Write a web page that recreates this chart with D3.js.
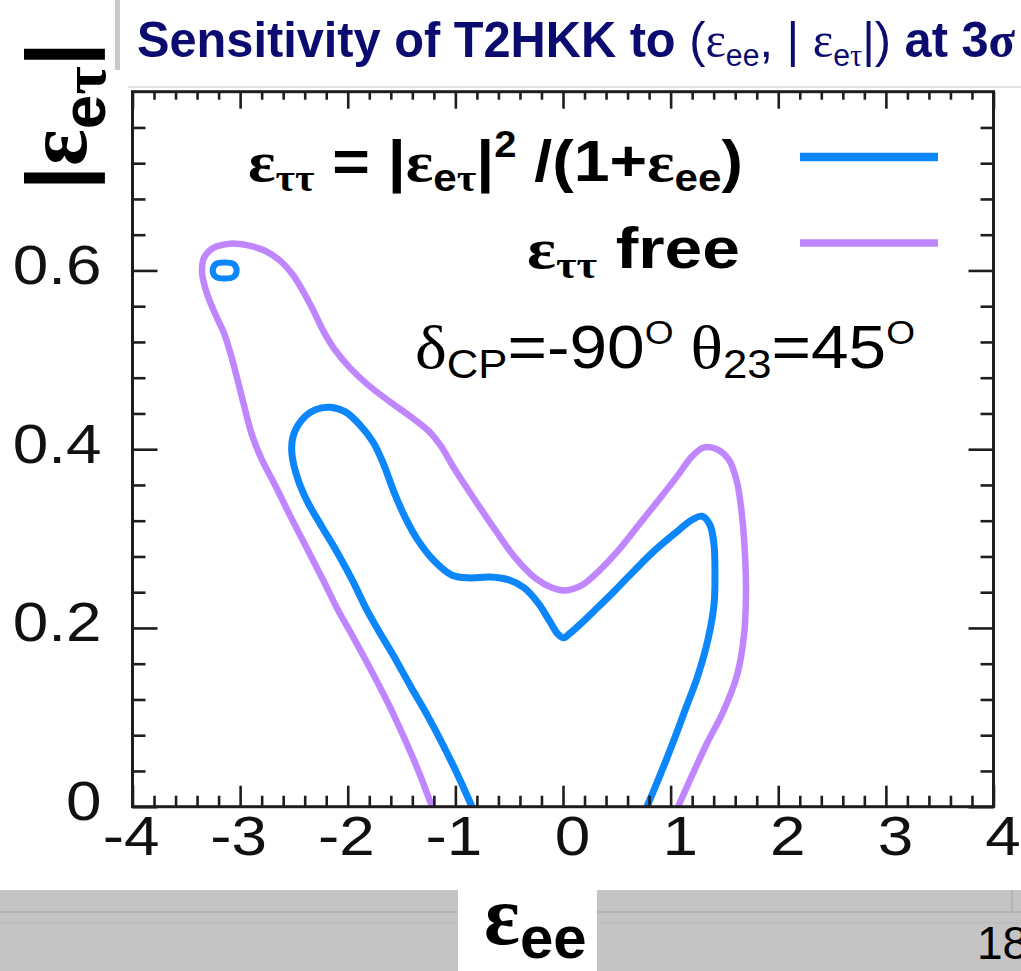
<!DOCTYPE html>
<html>
<head>
<meta charset="utf-8">
<script src="https://cdn.jsdelivr.net/npm/d3@7"></script>
<style>
  html, body { margin: 0; padding: 0; background: #ffffff; }
  svg { display: block; }
  .sans { font-family: "Liberation Sans", Arial, sans-serif; }
  .gk { font-family: "Liberation Serif", "Times New Roman", serif; }
</style>
</head>
<body>
<svg id="chart" width="1021" height="971"></svg>
<script>
// ---------------- data ----------------
const xTickValues = [-4, -3, -2, -1, 0, 1, 2, 3, 4];
const xTickLabels = ["-4", "-3", "-2", "-1", "0", "1", "2", "3", "4"];
const yTickValues = [0, 0.2, 0.4, 0.6];
const yTickLabels = ["0", "0.2", "0.4", "0.6"];

// eps_tautau free (outer, purple)
const contourFree = [
  [-1.217,0.000],[-1.347,0.041],[-1.487,0.080],[-1.626,0.116],[-1.793,0.155],
  [-1.960,0.192],[-2.091,0.220],[-2.230,0.254],[-2.379,0.289],[-2.537,0.326],
  [-2.676,0.360],[-2.797,0.388],[-2.890,0.416],[-2.964,0.449],[-3.029,0.480],
  [-3.094,0.509],[-3.150,0.530],[-3.215,0.547],[-3.280,0.565],[-3.326,0.581],
  [-3.354,0.598],[-3.336,0.614],[-3.252,0.625],[-3.094,0.630],[-2.927,0.628],
  [-2.769,0.622],[-2.630,0.611],[-2.509,0.595],[-2.416,0.577],[-2.323,0.556],
  [-2.230,0.533],[-2.118,0.511],[-1.979,0.491],[-1.812,0.472],[-1.607,0.453],
  [-1.422,0.437],[-1.254,0.421],[-1.143,0.405],[-1.003,0.377],[-0.818,0.343],
  [-0.632,0.310],[-0.446,0.279],[-0.260,0.256],[-0.102,0.245],[0.019,0.242],
  [0.177,0.248],[0.344,0.265],[0.530,0.289],[0.715,0.317],[0.901,0.345],
  [1.069,0.371],[1.199,0.392],[1.310,0.402],[1.431,0.400],[1.542,0.388],
  [1.617,0.363],[1.663,0.326],[1.691,0.282],[1.700,0.237],[1.682,0.192],
  [1.617,0.147],[1.487,0.106],[1.338,0.071],[1.199,0.035],[1.069,0.000]
];

// eps_tautau = |eps_etau|^2/(1+eps_ee) (inner, blue)
const contourConstrained = [
  [-0.846,0.000],[-0.976,0.035],[-1.115,0.069],[-1.264,0.103],[-1.422,0.136],
  [-1.580,0.170],[-1.719,0.198],[-1.830,0.222],[-1.960,0.254],[-2.100,0.285],
  [-2.239,0.313],[-2.369,0.340],[-2.462,0.366],[-2.518,0.394],[-2.509,0.414],
  [-2.425,0.433],[-2.304,0.444],[-2.165,0.447],[-2.026,0.442],[-1.886,0.427],
  [-1.765,0.408],[-1.663,0.382],[-1.570,0.352],[-1.468,0.324],[-1.347,0.298],
  [-1.189,0.274],[-1.031,0.259],[-0.864,0.256],[-0.678,0.257],[-0.511,0.254],
  [-0.362,0.245],[-0.232,0.228],[-0.121,0.207],[-0.046,0.193],[0.009,0.189],
  [0.065,0.194],[0.158,0.204],[0.297,0.220],[0.483,0.242],[0.669,0.265],
  [0.855,0.287],[1.041,0.306],[1.199,0.321],[1.292,0.325],[1.366,0.315],
  [1.403,0.293],[1.412,0.259],[1.403,0.226],[1.347,0.187],[1.254,0.147],
  [1.134,0.108],[1.013,0.069],[0.901,0.035],[0.780,0.000]
];

// small closed island of the blue contour
const islandConstrained = [
  [-3.255,0.600],[-3.222,0.6075],[-3.145,0.609],[-3.065,0.6075],
  [-3.032,0.600],[-3.065,0.5925],[-3.145,0.591],[-3.222,0.5925]
];

const blue = "#0b86fb";
const purple = "#c086ff";
const axisColor = "#1e1e1e";

// ---------------- layout ----------------
const svg = d3.select("#chart");
const plot = { left: 132.5, right: 993.5, top: 91.7, bottom: 806.7 };

const x = d3.scaleLinear().domain([-4, 4]).range([plot.left, plot.right]);
const y = d3.scaleLinear().domain([0, 0.8]).range([plot.bottom, plot.top]);

// ---------- background pieces (slide decoration) ----------
svg.append("rect").attr("x", 115).attr("y", 0).attr("width", 5).attr("height", 70).attr("fill", "#c9c9c9");
svg.append("line").attr("x1", 128).attr("x2", 1021).attr("y1", 87).attr("y2", 87)
  .attr("stroke", "#e2e2e2").attr("stroke-width", 2);

// footer band
svg.append("rect").attr("x", 0).attr("y", 890).attr("width", 1021).attr("height", 81).attr("fill", "#c4c4c4");
svg.append("line").attr("x1", 0).attr("x2", 1021).attr("y1", 912).attr("y2", 912).attr("stroke", "#b0b0b0").attr("stroke-width", 1.5);
svg.append("line").attr("x1", 0).attr("x2", 1021).attr("y1", 923).attr("y2", 923).attr("stroke", "#b8b8b8").attr("stroke-width", 1.2);
svg.append("line").attr("x1", 1012).attr("x2", 1012).attr("y1", 890).attr("y2", 912).attr("stroke", "#b0b0b0").attr("stroke-width", 1.5);
svg.append("rect").attr("x", 458).attr("y", 890).attr("width", 139).attr("height", 81).attr("fill", "#ffffff");

// ---------------- title ----------------
const title = svg.append("text").attr("class", "sans")
  .attr("x", 137).attr("y", 57)
  .attr("font-size", 50).attr("font-weight", "bold").attr("fill", "#0c0c70")
  .attr("textLength", 878).attr("lengthAdjust", "spacingAndGlyphs");
title.append("tspan").text("Sensitivity of T2HKK to ");
title.append("tspan").attr("font-weight", "normal").text("(");
title.append("tspan").attr("class", "gk").attr("font-weight", "normal").text("ε");
title.append("tspan").attr("font-weight", "normal").attr("font-size", 31).attr("dy", 9).text("ee");
title.append("tspan").attr("font-weight", "normal").attr("dy", -9).text(", | ");
title.append("tspan").attr("class", "gk").attr("font-weight", "normal").text("ε");
title.append("tspan").attr("font-weight", "normal").attr("font-size", 31).attr("dy", 9).text("e");
title.append("tspan").attr("class", "gk").attr("font-weight", "normal").attr("font-size", 31).text("τ");
title.append("tspan").attr("font-weight", "normal").attr("dy", -9).text("|)");
title.append("tspan").text(" at 3");
title.append("tspan").attr("class", "gk").text("σ");

// ---------------- contours ----------------
svg.append("clipPath").attr("id", "plotclip").append("rect")
  .attr("x", plot.left).attr("y", plot.top)
  .attr("width", plot.right - plot.left).attr("height", plot.bottom - plot.top);

const lineOpen = d3.line().x(d => x(d[0])).y(d => y(d[1])).curve(d3.curveCatmullRom.alpha(0.5));
const lineClosed = d3.line().x(d => x(d[0])).y(d => y(d[1])).curve(d3.curveCatmullRomClosed.alpha(0.5));

const cg = svg.append("g").attr("clip-path", "url(#plotclip)");
cg.append("path").attr("d", lineOpen(contourFree))
  .attr("fill", "none").attr("stroke", purple).attr("stroke-width", 6.5).attr("stroke-linejoin", "round");
cg.append("path").attr("d", lineOpen(contourConstrained))
  .attr("fill", "none").attr("stroke", blue).attr("stroke-width", 7).attr("stroke-linejoin", "round");
cg.append("path").attr("d", lineClosed(islandConstrained))
  .attr("fill", "none").attr("stroke", blue).attr("stroke-width", 6);

// ---------------- axes ----------------
const xMinor = d3.range(-4, 4.0001, 0.2).map(v => +v.toFixed(2)).filter(v => Math.abs(v - Math.round(v)) > 1e-6);
const yMinor = d3.range(0, 0.8001, 0.04).map(v => +v.toFixed(2)).filter(v => Math.abs(v / 0.2 - Math.round(v / 0.2)) > 1e-6);

function styleAxis(g) {
  g.select(".domain").remove();
  g.selectAll(".tick line").attr("stroke", axisColor).attr("stroke-width", 2.6);
}

const labelScale = 1.14;

// bottom
const gxb = svg.append("g").attr("transform", `translate(0,${plot.bottom})`)
  .call(d3.axisBottom(x).tickValues(xTickValues).tickSize(-21).tickSizeOuter(0).tickPadding(9)
    .tickFormat((d, i) => xTickLabels[i]));
styleAxis(gxb);
gxb.selectAll(".tick text")
  .attr("font-size", 56).attr("fill", "#111").attr("text-anchor", "middle")
  .attr("font-family", "Liberation Sans, Arial, sans-serif")
  .attr("transform", `scale(${labelScale},1)`)
  .attr("x", d => (d >= 0 ? 9 : -2) / labelScale);
svg.append("g").attr("transform", `translate(0,${plot.bottom})`)
  .call(d3.axisBottom(x).tickValues(xMinor).tickSize(-11).tickSizeOuter(0).tickFormat(""))
  .call(styleAxis);

// top
svg.append("g").attr("transform", `translate(0,${plot.top})`)
  .call(d3.axisTop(x).tickValues(xTickValues).tickSize(-17).tickSizeOuter(0).tickFormat(""))
  .call(styleAxis);
svg.append("g").attr("transform", `translate(0,${plot.top})`)
  .call(d3.axisTop(x).tickValues(xMinor).tickSize(-8).tickSizeOuter(0).tickFormat(""))
  .call(styleAxis);

// left
const gyl = svg.append("g").attr("transform", `translate(${plot.left},0)`)
  .call(d3.axisLeft(y).tickValues(yTickValues).tickSize(-25).tickSizeOuter(0).tickPadding(31)
    .tickFormat((d, i) => yTickLabels[i]));
styleAxis(gyl);
gyl.selectAll(".tick text")
  .attr("font-size", 56).attr("fill", "#111").attr("text-anchor", "end")
  .attr("font-family", "Liberation Sans, Arial, sans-serif")
  .attr("transform", `scale(${labelScale},1)`)
  .attr("x", -31 / labelScale).attr("dy", "13px");
svg.append("g").attr("transform", `translate(${plot.left},0)`)
  .call(d3.axisLeft(y).tickValues(yMinor).tickSize(-13).tickSizeOuter(0).tickFormat(""))
  .call(styleAxis);

// right
svg.append("g").attr("transform", `translate(${plot.right},0)`)
  .call(d3.axisRight(y).tickValues(yTickValues).tickSize(-25).tickSizeOuter(0).tickFormat(""))
  .call(styleAxis);
svg.append("g").attr("transform", `translate(${plot.right},0)`)
  .call(d3.axisRight(y).tickValues(yMinor).tickSize(-13).tickSizeOuter(0).tickFormat(""))
  .call(styleAxis);

// frame
svg.append("rect").attr("x", plot.left).attr("y", plot.top)
  .attr("width", plot.right - plot.left).attr("height", plot.bottom - plot.top)
  .attr("fill", "none").attr("stroke", axisColor).attr("stroke-width", 3);

// ---------------- legend ----------------
const l1 = svg.append("text").attr("class", "sans")
  .attr("x", 248).attr("y", 181).attr("font-size", 58).attr("font-weight", "bold").attr("fill", "#000")
  .attr("textLength", 495).attr("lengthAdjust", "spacingAndGlyphs");
l1.append("tspan").attr("class", "gk").text("ε");
l1.append("tspan").attr("class", "gk").attr("font-size", 38).attr("dy", 10).text("ττ");
l1.append("tspan").attr("dy", -10).text(" = |");
l1.append("tspan").attr("class", "gk").text("ε");
l1.append("tspan").attr("font-size", 38).attr("dy", 10).text("e");
l1.append("tspan").attr("class", "gk").attr("font-size", 38).text("τ");
l1.append("tspan").attr("dy", -10).text("|");
l1.append("tspan").attr("font-size", 36).attr("dy", -24).text("2");
l1.append("tspan").attr("dy", 24).text(" /(1+");
l1.append("tspan").attr("class", "gk").text("ε");
l1.append("tspan").attr("font-size", 38).attr("dy", 10).text("ee");
l1.append("tspan").attr("dy", -10).text(")");

const l2 = svg.append("text").attr("class", "sans")
  .attr("x", 527).attr("y", 268).attr("font-size", 58).attr("font-weight", "bold").attr("fill", "#000")
  .attr("textLength", 213).attr("lengthAdjust", "spacingAndGlyphs");
l2.append("tspan").attr("class", "gk").text("ε");
l2.append("tspan").attr("class", "gk").attr("font-size", 38).attr("dy", 10).text("ττ");
l2.append("tspan").attr("dy", -10).text(" free");

const l3 = svg.append("text").attr("class", "sans")
  .attr("x", 415).attr("y", 368).attr("font-size", 62).attr("fill", "#000")
  .attr("textLength", 500).attr("lengthAdjust", "spacingAndGlyphs");
l3.append("tspan").attr("class", "gk").text("δ");
l3.append("tspan").attr("font-size", 40).attr("dy", 10).text("CP");
l3.append("tspan").attr("dy", -10).text("=-90");
l3.append("tspan").attr("font-size", 34).attr("dy", -24).text("O");
l3.append("tspan").attr("class", "gk").attr("dy", 24).text(" θ");
l3.append("tspan").attr("font-size", 40).attr("dy", 10).text("23");
l3.append("tspan").attr("dy", -10).text("=45");
l3.append("tspan").attr("font-size", 34).attr("dy", -24).text("O");

svg.append("line").attr("x1", 800).attr("x2", 938).attr("y1", 157).attr("y2", 157)
  .attr("stroke", blue).attr("stroke-width", 8.5);
svg.append("line").attr("x1", 800).attr("x2", 938).attr("y1", 243).attr("y2", 243)
  .attr("stroke", purple).attr("stroke-width", 7.5);

// ---------------- axis titles ----------------
const yl = svg.append("text").attr("class", "sans")
  .attr("transform", "translate(86,190) rotate(-90)")
  .attr("font-size", 86).attr("font-weight", "bold").attr("fill", "#000");
yl.append("tspan").text("|");
yl.append("tspan").attr("class", "gk").text("ε");
yl.append("tspan").attr("font-size", 62).attr("dy", 19).text("e");
yl.append("tspan").attr("class", "gk").attr("font-size", 62).text("τ");
yl.append("tspan").attr("dy", -19).text("|");

const xl = svg.append("text").attr("class", "sans")
  .attr("x", 484).attr("y", 944).attr("font-size", 84).attr("font-weight", "bold").attr("fill", "#000");
xl.append("tspan").attr("class", "gk").text("ε");
xl.append("tspan").attr("font-size", 60).attr("dy", 14).text("ee");

svg.append("text").attr("class", "sans").attr("x", 977).attr("y", 959)
  .attr("font-size", 46).attr("fill", "#000").text("18");
</script>
</body>
</html>
